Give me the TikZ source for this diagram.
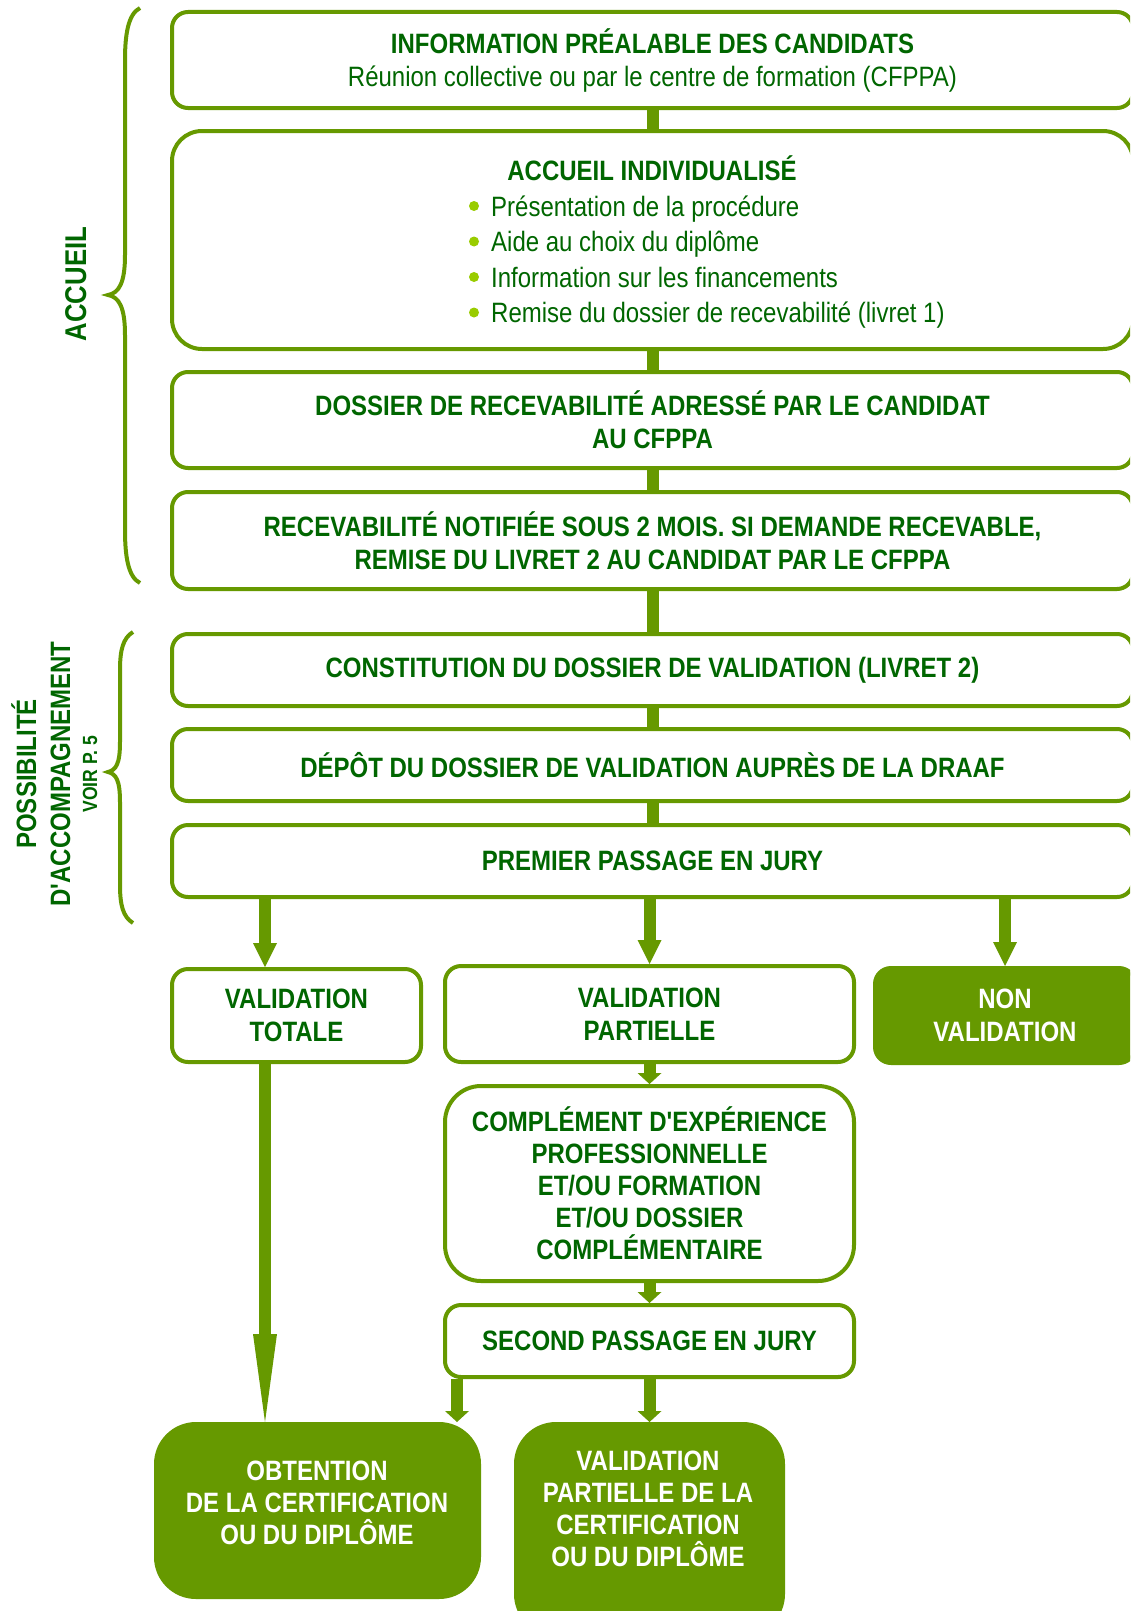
\documentclass[tikz,border=0pt]{standalone}
\usepackage{fontspec}
\setmainfont{Liberation Sans}[FakeStretch=0.857, Ligatures=TeXOff]
\usetikzlibrary{arrows.meta}
\definecolor{boxgreen}{RGB}{102,153,0}
\definecolor{textgreen}{RGB}{0,102,0}
\definecolor{dotgreen}{RGB}{153,204,0}
\tikzset{
  stage/.style={draw=boxgreen, line width=4pt, fill=white, rounded corners=16pt, text=textgreen,
    font=\fontsize{28}{33}\selectfont\bfseries, align=center, inner sep=0pt,
    minimum width=961pt, minimum height=96pt},
  outcome/.style={stage, fill=boxgreen, text=white},
  titletext/.style={text=textgreen, font=\fontsize{28}{33}\selectfont\bfseries, align=center, inner sep=0pt},
  item/.style={text=textgreen, font=\fontsize{28}{34}\selectfont, inner sep=0pt, anchor=base west},
  side/.style={text=textgreen, font=\fontsize{28}{34}\selectfont\bfseries, rotate=90, inner sep=0pt, anchor=base},
  joint/.style={draw=boxgreen, line width=12pt},
  jury arrow/.style={joint, -{Triangle[width=24pt,length=24pt,line width=0pt]}},
  short arrow/.style={joint, -{Triangle[width=24pt,length=11pt,line width=0pt]}},
  long arrow/.style={joint, -{Triangle[width=24pt,length=88pt,line width=0pt]}},
  curly/.style={draw=boxgreen, line width=4pt}
}
\begin{document}
\begin{tikzpicture}[x=1pt,y=-1pt]
\useasboundingbox (0,0) rectangle (1130,1611);
\clip (0,0) rectangle (1130,1611);
\fill[white] (0,0) rectangle (1130,1611);

\node[stage] (info) at (652.5,60) {INFORMATION PRÉALABLE DES CANDIDATS\\{\mdseries Réunion collective ou par le centre de formation (CFPPA)}};
\node[stage, minimum height=218pt, rounded corners=30pt] (accueil) at (652.5,240) {};
\node[titletext, anchor=base] (accueil-title) at (652,180) {ACCUEIL INDIVIDUALISÉ};
\foreach \txt [count=\i from 0] in {Présentation de la procédure, Aide au choix du diplôme, Information sur les financements, Remise du dossier de recevabilité (livret 1)} {
  \fill[dotgreen] (474,206+35.5*\i) circle (5);
  \node[item] (point-\i) at (491,216+35.5*\i) {\txt};
}
\node[stage] (dossier) at (652.5,420) {DOSSIER DE RECEVABILITÉ ADRESSÉ PAR LE CANDIDAT\\AU CFPPA};
\node[stage, minimum height=97pt] (recev) at (652.5,540.5) {RECEVABILITÉ NOTIFIÉE SOUS 2 MOIS. SI DEMANDE RECEVABLE,\\REMISE DU LIVRET 2 AU CANDIDAT PAR LE CFPPA};
\node[stage, minimum height=72pt] (constit) at (652.5,670) {CONSTITUTION DU DOSSIER DE VALIDATION (LIVRET 2)};
\node[stage, minimum height=72pt] (depot) at (652.5,765) {DÉPÔT DU DOSSIER DE VALIDATION AUPRÈS DE LA DRAAF};
\node[stage, minimum height=72pt] (premier) at (652.5,861) {PREMIER PASSAGE EN JURY};

\node[stage, minimum width=249pt, minimum height=93pt] (totale) at (296.5,1015.5) {VALIDATION\\TOTALE};
\node[stage, minimum width=409pt] (partielle) at (649.5,1014) {VALIDATION\\PARTIELLE};
\node[outcome, minimum width=260pt, minimum height=95pt] (nonval) at (1005,1015.5) {NON\\VALIDATION};
\node[stage, minimum width=409pt, minimum height=195pt, rounded corners=36pt, font=\fontsize{28}{32}\selectfont\bfseries] (complement) at (649.5,1183.5) {COMPLÉMENT D'EXPÉRIENCE\\PROFESSIONNELLE\\ET/OU FORMATION\\ET/OU DOSSIER\\COMPLÉMENTAIRE};
\node[stage, minimum width=409pt, minimum height=72pt] (second) at (649.5,1341) {SECOND PASSAGE EN JURY};
\node[outcome, minimum width=323pt, minimum height=173pt, rounded corners=40pt] (obtention) at (317.5,1510.5) {};
\node[titletext, text=white, font=\fontsize{28}{32}\selectfont\bfseries] (obtention-text) at (317,1503) {OBTENTION\\DE LA CERTIFICATION\\OU DU DIPLÔME};
\node[outcome, minimum width=267pt, minimum height=210pt, rounded corners=40pt] (valpart) at (649.5,1529) {};
\node[titletext, text=white, font=\fontsize{28}{32}\selectfont\bfseries] (valpart-text) at (648,1509) {VALIDATION\\PARTIELLE DE LA\\CERTIFICATION\\OU DU DIPLÔME};

\foreach \a/\b in {info/accueil, accueil/dossier, dossier/recev, recev/constit, constit/depot, depot/premier}
  \draw[joint] (\a) -- (\b);
\coordinate (total-x) at (265,0);
\coordinate (cross-x) at (457,0);
\draw[jury arrow] (premier.south -| total-x) -- (totale.north -| total-x);
\draw[jury arrow] (premier.south -| partielle.north) -- (partielle.north);
\draw[jury arrow] (premier.south -| nonval.north) -- (nonval.north);
\draw[short arrow] (partielle) -- (complement);
\draw[short arrow] (complement) -- (second);
\draw[long arrow] (totale.south -| total-x) -- (obtention.north -| total-x);
\draw[short arrow] (second.south -| cross-x) -- (obtention.north -| cross-x);
\draw[short arrow] (second) -- (valpart);

\draw[curly] (140,8) .. controls (128,14) and (125,35) .. (125,60) -- (125,255) .. controls (125,283) and (119,293) .. (108,295) .. controls (119,297) and (125,307) .. (125,335) -- (125,530) .. controls (125,556) and (128,577) .. (140,583);
\draw[curly] (133,632) .. controls (123,638) and (120,650) .. (120,670) -- (120,742) .. controls (120,764) and (116,770) .. (108,772) .. controls (116,774) and (120,780) .. (120,802) -- (120,885) .. controls (120,905) and (123,917) .. (133,923);
\node[side, font=\fontsize{30}{34}\selectfont\bfseries] (accueil-side) at (86,284) {ACCUEIL};
\node[side] (possib) at (36,774) {POSSIBILITÉ};
\node[side] (accomp) at (70,774) {D'ACCOMPAGNEMENT};
\node[side, font=\fontsize{20.5}{24}\selectfont\bfseries] (voir) at (97,774) {VOIR P. 5};
\end{tikzpicture}
\end{document}
